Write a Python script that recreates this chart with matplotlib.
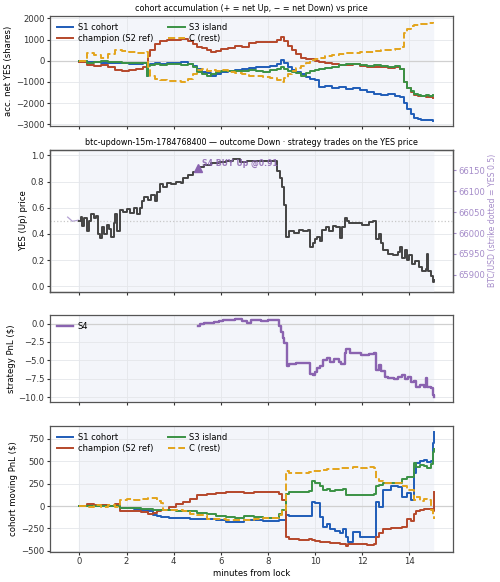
import matplotlib
matplotlib.use("Agg")
import matplotlib.pyplot as plt
from matplotlib.ticker import MultipleLocator

# ---- panel 1: cohort accumulation (shares) ----
acc_t = [0.0, 0.3, 0.6, 0.9, 1.2, 1.5, 1.8, 2.1, 2.4, 2.7, 2.85, 2.92, 3.0, 3.2, 3.4, 3.7,
         4.0, 4.3, 4.6, 4.8, 5.0, 5.2, 5.4, 5.6, 5.8, 6.0, 6.3, 6.6, 6.9, 7.2, 7.5, 7.8,
         8.1, 8.4, 8.55, 8.7, 8.85, 9.0, 9.2, 9.4, 9.6, 9.8, 10.0, 10.15, 10.4, 10.7, 11.0,
         11.3, 11.6, 11.9, 12.2, 12.5, 12.8, 13.1, 13.4, 13.6, 13.75, 13.9, 14.05, 14.2,
         14.35, 14.5, 14.7, 14.85, 15.0]
acc_s1 = [0, -80, -60, -100, -120, -90, -110, -150, -140, -120, -700, -200, -150, -120, -150, -100,
          -130, -80, -150, -250, -400, -550, -600, -700, -650, -550, -500, -450, -400, -350, -300, -320,
          -250, -150, 50, -100, -300, -450, -550, -650, -750, -850, -900, -1250, -1200, -1300, -1250,
          -1350, -1300, -1400, -1500, -1550, -1600, -1550, -1650, -1700, -2000, -2300, -2500, -2700,
          -2750, -2780, -2800, -2800, -2850]
acc_champ = [-50, -200, -250, -220, -300, -420, -480, -450, -400, -300, -100, 200, 500, 800, 950, 1000,
             1000, 1050, 950, 800, 650, 600, 500, 400, 450, 550, 600, 700, 650, 850, 900, 880,
             900, 1000, 1100, 950, 700, 500, 300, 150, 100, 80, 0, -50, -100, -150, -200,
             -220, -150, -250, -300, -280, -320, -350, -300, -400, -1000, -1300, -1500, -1600,
             -1650, -1650, -1700, -1720, -1750]
acc_s3 = [0, -100, -80, 0, -50, -80, -100, -120, -120, -100, -700, -250, -200, -150, -180, -150,
          -150, -200, -150, -300, -550, -650, -700, -650, -550, -500, -480, -500, -500, -450, -500, -520,
          -450, -400, -300, -400, -500, -550, -600, -700, -600, -500, -450, -400, -350, -280, -200,
          -150, -150, -200, -250, -200, -250, -300, -250, -400, -1000, -1300, -1450, -1550,
          -1600, -1650, -1620, -1680, -1600]
acc_rest = [0, 350, 250, 150, 300, 500, 450, 420, 380, 350, 400, -300, -700, -850, -900, -950,
            -950, -1000, -850, -650, -450, -400, -500, -450, -500, -450, -550, -600, -650, -700, -700, -750,
            -800, -900, -1000, -800, -650, -500, -350, -250, -100, 50, 100, 150, 200, 250, 300,
            350, 380, 400, 420, 450, 500, 500, 550, 650, 1300, 1500, 1650, 1700,
            1700, 1750, 1750, 1800, 1850]

# ---- panel 2: YES price and BTC ----
yes_t = [0.0, 0.05, 0.12, 0.2, 0.3, 0.4, 0.5, 0.6, 0.7, 0.8, 0.88, 0.95, 1.05, 1.15, 1.25, 1.35,
         1.45, 1.5, 1.6, 1.7, 1.85, 2.0, 2.15, 2.3, 2.45, 2.55, 2.65, 2.75, 2.9, 3.05, 3.2, 3.3,
         3.4, 3.55, 3.7, 3.9, 4.1, 4.3, 4.4, 4.6, 4.8, 5.0, 5.1, 5.3, 5.6, 5.9, 6.2, 6.5, 6.8,
         7.1, 7.4, 7.8, 8.3, 8.4, 8.5, 8.6, 8.7, 8.78, 8.9, 9.1, 9.3, 9.5, 9.7, 9.8, 9.9, 10.0,
         10.1, 10.2, 10.3, 10.45, 10.6, 10.75, 10.9, 11.05, 11.15, 11.25, 11.35, 11.45, 11.7,
         12.0, 12.3, 12.45, 12.6, 12.7, 12.8, 12.9, 13.1, 13.3, 13.5, 13.6, 13.7, 13.8, 13.9,
         14.0, 14.1, 14.25, 14.4, 14.55, 14.7, 14.75, 14.8, 14.9, 15.0, 15.05]
yes_p = [0.50, 0.53, 0.46, 0.52, 0.42, 0.50, 0.55, 0.52, 0.54, 0.40, 0.37, 0.45, 0.40, 0.47, 0.44, 0.38,
         0.48, 0.55, 0.42, 0.58, 0.57, 0.59, 0.56, 0.60, 0.55, 0.60, 0.65, 0.68, 0.66, 0.70, 0.65, 0.72,
         0.78, 0.76, 0.79, 0.78, 0.80, 0.79, 0.83, 0.85, 0.87, 0.89, 0.91, 0.93, 0.94, 0.95, 0.96, 0.97, 0.95,
         0.96, 0.955, 0.96, 0.96, 0.88, 0.83, 0.76, 0.62, 0.38, 0.42, 0.41, 0.43, 0.42, 0.43, 0.30, 0.33, 0.36,
         0.38, 0.35, 0.43, 0.45, 0.42, 0.46, 0.45, 0.37, 0.45, 0.52, 0.50, 0.48, 0.48,
         0.47, 0.49, 0.50, 0.36, 0.40, 0.33, 0.28, 0.25, 0.24, 0.26, 0.30, 0.22, 0.28, 0.20,
         0.24, 0.17, 0.19, 0.15, 0.12, 0.13, 0.25, 0.12, 0.08, 0.03, 0.05]
btc_t = [-0.5, -0.3, -0.1, 0.2, 0.6, 1.0, 1.5, 2.0, 2.4, 2.5, 2.7, 3.0, 3.4, 3.6, 4.0, 4.3, 4.6,
         5.0, 5.2, 5.5, 5.8, 6.1, 6.4, 6.7, 6.9, 7.0, 7.1, 7.25, 7.35, 7.6, 8.0, 8.35, 8.5, 8.6,
         8.75, 8.9, 9.3, 9.75, 9.8, 10.0, 10.2, 10.6, 10.9, 11.2, 11.4, 12.0, 12.5, 12.6, 12.9,
         13.3, 13.7, 14.0, 14.3, 14.6, 15.0]
btc_p = [66038, 66028, 66030, 66033, 66036, 66040, 66043, 66045, 66036, 66032, 66040, 66050, 66056,
         66068, 66070, 66072, 66100, 66105, 66114, 66125, 66145, 66167, 66170, 66168, 66150, 66120,
         66110, 66160, 66140, 66133, 66128, 66120, 66090, 66060, 66015, 66012, 66013, 66012, 65995,
         66000, 66005, 66006, 66022, 66025, 66038, 66037, 66036, 66012, 66008, 66006, 66008, 66005,
         66002, 66008, 66012]
strike_yes = 0.5
buy_t, buy_p, buy_label = 5.03, 0.90, "S4 BUY Up @0.91"

# ---- panel 3: strategy PnL ----
s4_t = [5.03, 5.1, 5.3, 5.5, 5.7, 5.9, 6.1, 6.4, 6.6, 6.9, 7.1, 7.3, 7.7, 8.0, 8.35, 8.45, 8.55,
        8.65, 8.7, 8.8, 8.9, 9.2, 9.5, 9.75, 9.8, 9.9, 10.0, 10.1, 10.2, 10.35, 10.5, 10.65, 10.8,
        11.0, 11.1, 11.25, 11.3, 11.5, 11.85, 11.95, 12.3, 12.5, 12.6, 12.7, 12.8, 12.95, 13.1,
        13.35, 13.5, 13.7, 13.8, 13.95, 14.05, 14.2, 14.3, 14.45, 14.6, 14.7, 14.75, 14.9, 15.0, 15.05]
s4_pnl = [-0.3, 0.0, 0.1, 0.1, 0.2, 0.3, 0.5, 0.45, 0.55, 0.35, 0.1, 0.45, 0.4, 0.45, 0.45, -0.4, -1.2,
          -2.0, -2.6, -5.8, -5.5, -5.3, -5.4, -5.4, -6.8, -7.0, -6.6, -6.0, -5.8, -5.0, -4.7, -5.2, -4.8,
          -5.2, -5.5, -4.0, -3.5, -4.0, -4.0, -4.3, -4.2, -4.0, -6.3, -5.6, -6.5, -7.2, -7.4,
          -7.6, -7.2, -7.0, -7.6, -7.3, -8.0, -7.8, -8.6, -8.4, -8.6, -7.4, -8.6, -8.7, -9.7, -10.0]

# ---- panel 4: cohort moving PnL ($) ----
pnl_t = [0.0, 0.3, 0.6, 0.9, 1.2, 1.5, 1.7, 2.0, 2.3, 2.6, 2.9, 3.1, 3.3, 3.45, 3.55, 3.8, 4.1,
         4.4, 4.7, 5.0, 5.4, 5.8, 6.2, 6.6, 7.0, 7.4, 7.8, 8.2, 8.45, 8.6, 8.75, 8.9, 9.3, 9.75,
         9.85, 10.0, 10.2, 10.35, 10.5, 10.65, 10.85, 11.05, 11.2, 11.3, 11.4, 11.6, 11.9, 12.2,
         12.5, 12.6, 12.7, 12.9, 13.2, 13.5, 13.7, 13.9, 14.05, 14.2, 14.3, 14.45, 14.6, 14.75,
         14.9, 15.0, 15.05]
pnl_s1 = [0, 5, -5, 10, 0, -5, -20, -25, -30, -40, -60, -100, -110, -120, -125, -130, -130,
          -135, -140, -140, -150, -160, -175, -180, -160, -160, -165, -165, -160, -160, -100, -110, -115, -115,
          50, 30, -120, -230, -200, -260, -280, -300, -260, -350, -400, -290, -350, -350,
          -350, 50, -10, 180, 220, 210, 100, 150, 70, 370, 480, 500, 510, 490,
          500, 710, 830]
pnl_champ = [0, 20, 10, 15, 5, 20, -50, -55, -50, -70, -85, -80, -60, -45, -40, -10, 20,
             40, 80, 120, 140, 150, 160, 160, 145, 155, 160, 160, 130, 70, -350, -370, -375, -370,
             -380, -390, -400, -405, -400, -410, -410, -420, -420, -445, -425, -430, -425, -440,
             -430, -350, -300, -260, -245, -240, -230, -140, -170, -85, -60, -40, -35, -35,
             -30, -50, 160]
pnl_s3 = [0, -5, 5, 0, -5, 5, -25, -25, -25, -30, -30, -40, -45, -45, -45, -45, -50,
          -55, -60, -75, -90, -110, -120, -130, -110, -125, -130, -130, -90, -40, 140, 160, 160, 165,
          275, 260, 220, 180, 190, 170, 180, 175, 190, 125, 125, 125, 125, 125,
          130, 220, 230, 260, 260, 255, 300, 320, 330, 485, 440, 460, 450, 430,
          470, 600, 640]
pnl_rest = [0, -10, 10, -15, 10, -10, 70, 75, 65, 80, 90, 85, 60, 30, -45, -40, -45,
            -50, -85, -100, -140, -150, -160, -160, -160, -150, -135, -130, -100, -45, 390, 370, 375, 380,
            390, 395, 400, 405, 410, 410, 415, 420, 425, 430, 430, 435, 430, 435,
            430, 300, 280, 260, 260, 255, 220, 180, 175, 70, 100, 60, 75, 70,
            -45, -100, -140]

cohort_labels = ["S1 cohort", "champion (S2 ref)", "S3 island", "C (rest)"]
cohort_colors = ["#1f5cb8", "#b5472a", "#3a9245", "#e3a41c"]
cohort_styles = ["-", "-", "-", "--"]
PURPLE = "#8a63b0"
FS = 6.1

plt.rcParams.update({
    "font.size": FS,
    "axes.edgecolor": "#555555",
    "axes.linewidth": 0.9,
    "axes.labelpad": 2.0,
    "xtick.color": "#333333",
    "ytick.color": "#333333",
})

fig = plt.figure(figsize=(5.0, 5.82), dpi=100)
L, W = 0.10, 0.806
ax1 = fig.add_axes([L, 0.783, W, 0.189])
ax2 = fig.add_axes([L, 0.499, W, 0.243])
ax3 = fig.add_axes([L, 0.310, W, 0.148])
ax4 = fig.add_axes([L, 0.052, W, 0.216])
axes = [ax1, ax2, ax3, ax4]

for ax in axes:
    ax.axvspan(0, 15, color="#f3f5fa", zorder=0)
    ax.grid(True, color="#e4e6ea", lw=0.6, zorder=0.5)
    ax.set_axisbelow(True)
    ax.set_xlim(-1.25, 15.85)
    ax.set_xticks(range(0, 16, 2))
    ax.tick_params(length=2.5, width=0.8, pad=1.5, labelsize=FS)
for ax in axes[:3]:
    ax.tick_params(labelbottom=False)

leg_kw = dict(loc="upper left", frameon=False, fontsize=6.0, handlelength=2.0,
              handletextpad=0.5, labelspacing=0.25, borderaxespad=0.4)

# panel 1
ax1.axhline(0, color="#d0d0d0", lw=0.9, zorder=1)
for vals, lab, c, ls in zip([acc_s1, acc_champ, acc_s3, acc_rest], cohort_labels, cohort_colors, cohort_styles):
    ax1.plot(acc_t, vals, color=c, ls=ls, lw=1.4, label=lab, drawstyle="steps-post", zorder=3)
ax1.yaxis.set_major_locator(MultipleLocator(1000))
ax1.set_ylim(-3100, 2100)
ax1.set_ylabel("acc. net YES (shares)", fontsize=FS)
ax1.set_title("cohort accumulation (+ = net Up, \u2212 = net Down) vs price", fontsize=5.8, pad=4)
ax1.legend(ncol=2, columnspacing=1.8, **leg_kw)

# panel 2
ax2b = ax2.twinx()
ax2b.plot(btc_t, btc_p, color="#b3a0d3", lw=0.9, zorder=2)
ax2b.set_ylim(65860, 66198)
ax2b.set_ylabel("BTC/USD (strike dotted = YES 0.5)", color="#a58cc9", fontsize=5.6)
ax2b.tick_params(axis="y", colors="#a58cc9", labelsize=FS, length=2.5, pad=1.5)
ax2b.spines["right"].set_color("#555555")
ax2.set_zorder(ax2b.get_zorder() + 1)
ax2.patch.set_visible(False)
ax2b.axvspan(0, 15, color="#f3f5fa", zorder=0)
ax2.axhline(strike_yes, color="#c8c8c8", lw=0.9, ls=":", zorder=1)
ax2.plot(yes_t, yes_p, color="#444444", lw=1.4, drawstyle="steps-post", zorder=3)
ax2.plot([buy_t], [buy_p], marker="^", color=PURPLE, ms=6, ls="none", zorder=4)
ax2.annotate(buy_label, (buy_t, buy_p), xytext=(3, 0), textcoords="offset points",
             color=PURPLE, fontsize=5.6, fontweight="bold", alpha=0.85, va="bottom", zorder=4)
ax2.set_ylim(-0.04, 1.04)
ax2.set_ylabel("YES (Up) price", fontsize=FS)
ax2.set_title("btc-updown-15m-1784768400 \u2014 outcome Down \u00b7 strategy trades on the YES price",
              fontsize=5.8, pad=4)

# panel 3
ax3.axhline(0, color="#d0d0d0", lw=0.9, zorder=1)
ax3.plot(s4_t, s4_pnl, color=PURPLE, lw=1.7, label="S4", drawstyle="steps-post", zorder=3)
ax3.yaxis.set_major_locator(MultipleLocator(2.5))
ax3.set_ylim(-10.6, 1.1)
ax3.set_ylabel("strategy PnL ($)", fontsize=FS)
ax3.legend(**leg_kw)

# panel 4
ax4.axhline(0, color="#d0d0d0", lw=0.9, zorder=1)
for vals, lab, c, ls in zip([pnl_s1, pnl_champ, pnl_s3, pnl_rest], cohort_labels, cohort_colors, cohort_styles):
    ax4.plot(pnl_t, vals, color=c, ls=ls, lw=1.4, label=lab, drawstyle="steps-post", zorder=3)
ax4.yaxis.set_major_locator(MultipleLocator(250))
ax4.set_ylim(-511, 895)
ax4.set_ylabel("cohort moving PnL ($)", fontsize=FS)
ax4.set_xlabel("minutes from lock", fontsize=FS)
ax4.legend(ncol=2, columnspacing=1.8, **leg_kw)

fig.savefig("out.png", dpi=100)
